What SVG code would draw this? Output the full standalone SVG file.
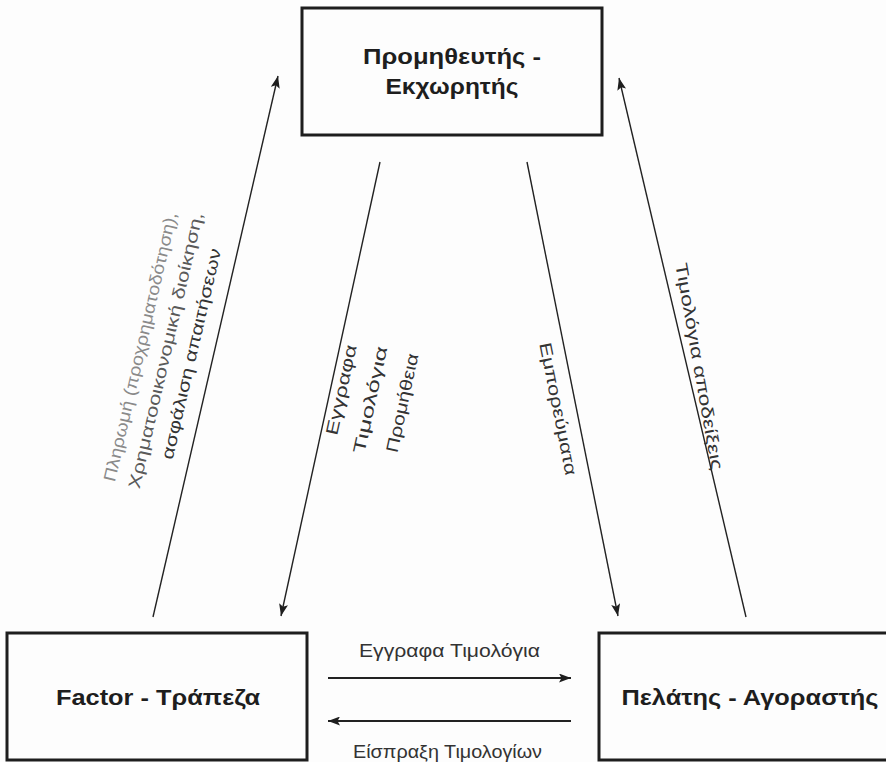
<svg xmlns="http://www.w3.org/2000/svg" width="886" height="762" viewBox="0 0 886 762">
<style>
.box{fill:#fdfdfd;stroke:#1e1e1e;stroke-width:3}
.bt{font-family:"Liberation Sans",Arial,sans-serif;font-weight:bold;font-size:22px;fill:#1e1e1e;text-anchor:middle}
.lt{font-family:"Liberation Sans",Arial,sans-serif;font-size:18px;fill:#333;text-anchor:middle}
.rt{font-family:"Liberation Sans",Arial,sans-serif;font-size:17px;fill:#333;text-anchor:middle}
.fa{fill:#8a8a8a}
.fb{fill:#5a5a5a}
.dl{stroke:#222;stroke-width:1.4;fill:none;marker-end:url(#ah)}
.hl{stroke:#222;stroke-width:2.2;fill:none;marker-end:url(#ah)}
</style>
<defs>
<marker id="ah" viewBox="0 0 12 9" refX="12" refY="4.5" markerWidth="12" markerHeight="9" markerUnits="userSpaceOnUse" orient="auto">
<path d="M0,0 L12,4.5 L0,9 L2.5,4.5 z" fill="#1e1e1e"/>
</marker>
</defs>
<rect width="886" height="762" fill="#fdfdfd"/>
<g id="supplier">
<rect class="box" x="302" y="8" width="300" height="127"/>
<text class="bt" x="452" y="64" textLength="178" lengthAdjust="spacingAndGlyphs">Προμηθευτής -</text>
<text class="bt" x="452" y="94" textLength="133" lengthAdjust="spacingAndGlyphs">Εκχωρητής</text>
</g>
<g id="factor">
<rect class="box" x="7" y="633" width="300" height="127"/>
<text class="bt" x="158" y="705" textLength="204" lengthAdjust="spacingAndGlyphs">Factor - Τράπεζα</text>
</g>
<g id="customer">
<rect class="box" x="599" y="633" width="292" height="127"/>
<text class="bt" x="750" y="705" textLength="257" lengthAdjust="spacingAndGlyphs">Πελάτης - Αγοραστής</text>
</g>
<g id="connectors">
<line class="dl" x1="153" y1="617" x2="278" y2="76"/>
<line class="dl" x1="380" y1="162" x2="281" y2="616"/>
<line class="dl" x1="527" y1="162" x2="618" y2="616"/>
<line class="dl" x1="746" y1="617" x2="619" y2="78"/>
<line class="hl" x1="328" y1="678" x2="571" y2="678"/>
<line class="hl" x1="571" y1="721" x2="328" y2="721"/>
</g>
<g id="labels">
<text class="rt fa" transform="translate(141,347) rotate(-77)" x="0" y="5" textLength="276" lengthAdjust="spacingAndGlyphs">Πληρωμή (προχρηματοδότηση),</text>
<text class="rt fb" transform="translate(166.5,350.5) rotate(-77)" x="0" y="5" textLength="283" lengthAdjust="spacingAndGlyphs">Χρηματοοικονομική διοίκηση,</text>
<text class="rt" transform="translate(192,354) rotate(-77)" x="0" y="5" textLength="216" lengthAdjust="spacingAndGlyphs">ασφάλιση απαιτήσεων</text>
<text class="rt" transform="translate(342,390) rotate(-77.7)" x="0" y="5" textLength="92" lengthAdjust="spacingAndGlyphs">Εγγραφα</text>
<text class="rt" transform="translate(371,400) rotate(-77.7)" x="0" y="5" textLength="109" lengthAdjust="spacingAndGlyphs">Τιμολόγια</text>
<text class="rt" transform="translate(403,403) rotate(-77.7)" x="0" y="5" textLength="101" lengthAdjust="spacingAndGlyphs">Προμήθεια</text>
<text class="rt" transform="translate(557.5,409) rotate(78.7)" x="0" y="5" textLength="135" lengthAdjust="spacingAndGlyphs">Εμπορεύματα</text>
<text class="rt" transform="translate(698.5,366.5) rotate(80)" x="0" y="5" textLength="210" lengthAdjust="spacingAndGlyphs">Τιμολόγια αποδείξεις</text>
<text class="lt" x="449.5" y="657" textLength="181" lengthAdjust="spacingAndGlyphs">Εγγραφα Τιμολόγια</text>
<text class="lt" x="447.5" y="758" textLength="189" lengthAdjust="spacingAndGlyphs">Είσπραξη Τιμολογίων</text>
</g>
</svg>
